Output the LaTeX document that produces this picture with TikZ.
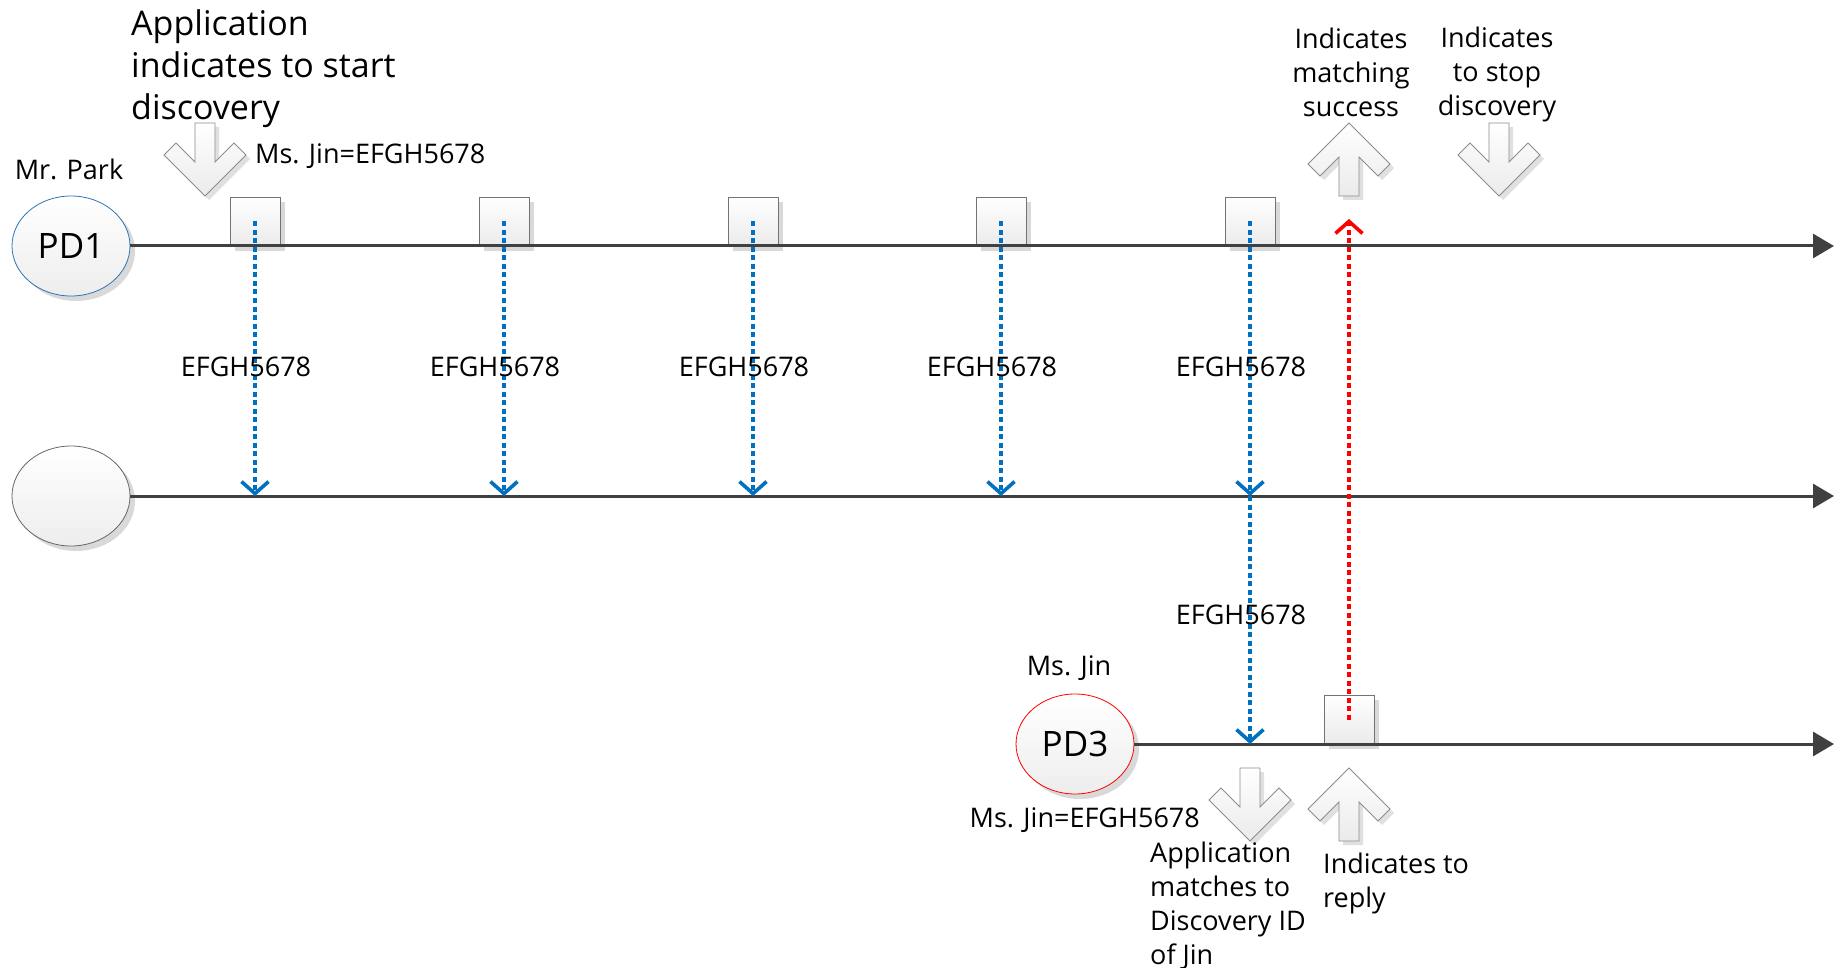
\documentclass[tikz,border=0pt]{standalone}
\usepackage{fontspec}
\setmainfont{Open Sans}
\usetikzlibrary{arrows.meta,shapes.geometric,shadows}
\definecolor{msgblue}{HTML}{0070C0}
\definecolor{ackred}{HTML}{FF0000}
\definecolor{pdblue}{HTML}{2E75B6}
\definecolor{lifegray}{HTML}{404040}
% block arrows (hints from the application)
\newcommand{\hintdown}[2]{%
  \fill[hintshade,shift={(#1+4,#2+4)}] (-10,0) -- (-10,39) -- (-29,20) -- (-41,32) -- (0,73) -- (41,32) -- (29,20) -- (10,39) -- (10,0) -- cycle;
  \draw[hintarrow,shift={(#1,#2)}] (-10,0) -- (-10,39) -- (-29,20) -- (-41,32) -- (0,73) -- (41,32) -- (29,20) -- (10,39) -- (10,0) -- cycle;}
\newcommand{\hintup}[2]{%
  \fill[hintshade,shift={(#1+4,#2+4)}] (-10,0) -- (-10,-39) -- (-29,-20) -- (-41,-32) -- (0,-73) -- (41,-32) -- (29,-20) -- (10,-39) -- (10,0) -- cycle;
  \draw[hintarrow,shift={(#1,#2)}] (-10,0) -- (-10,-39) -- (-29,-20) -- (-41,-32) -- (0,-73) -- (41,-32) -- (29,-20) -- (10,-39) -- (10,0) -- cycle;}

\begin{document}
\begin{tikzpicture}[x=1pt,y=-1pt,
    device/.style={ellipse,minimum width=118pt,minimum height=100pt,inner sep=0pt,line width=.8pt,
      top color=white,bottom color=black!7,
      drop shadow={fill=black!15,opacity=1,shadow xshift=5pt,shadow yshift=-5pt},
      font=\fontsize{35}{42}\selectfont},
    slot/.style={rectangle,minimum width=50pt,minimum height=49pt,inner sep=0pt,draw=black!55,line width=.8pt,
      top color=white,bottom color=black!8,
      drop shadow={fill=black!15,opacity=1,shadow xshift=5pt,shadow yshift=-5pt}},
    lifeline/.style={draw=lifegray,line width=3pt,-{Triangle[length=21pt,width=24pt]}},
    discmsg/.style={draw=msgblue,line width=3.6pt,dash pattern=on 5pt off 3.5pt,-{Straight Barb[length=12pt,width=27pt]}},
    ackmsg/.style={draw=ackred,line width=3.6pt,dash pattern=on 5pt off 3.5pt,-{Straight Barb[length=12pt,width=27pt]}},
    hintarrow/.style={draw=black!45,line width=.8pt,top color=white,bottom color=black!8},
    hintshade/.style={fill=black!12},
    lbl/.style={font=\fontsize{27}{34}\selectfont,inner sep=0pt,align=center}]
    \useasboundingbox (0,0) rectangle (1836,968);

    % devices
    \node[device,draw=pdblue] (PD1) at (71,246) {PD1};
    \node[device,draw=black!60] (PD2) at (71,496) {};
    \node[device,draw=ackred] (PD3) at (1075,744) {PD3};

    \coordinate (end1) at (1834,246);
    \coordinate (end2) at (1834,496);
    \coordinate (end3) at (1834,744);
    \coordinate (ackend) at (1349,219);

    % discovery slots
    \foreach \i/\x in {1/255,2/504,3/753,4/1001,5/1250}
        \node[slot] (B\i) at (\x,221.5) {};
    \node[slot] (B6) at (1349,719.5) {};

    \draw[lifeline] (PD1) -- (end1);
    \draw[lifeline] (PD2) -- (end2);
    \draw[lifeline] (PD3) -- (end3);

    % messages
    \foreach \i in {1,...,5}
        \draw[discmsg] (B\i.center) to node[lbl,pos=.53,xshift=-9pt] {EFGH5678} (B\i |- PD2);
    \draw[discmsg] (B5 |- PD2) to node[lbl,pos=.48,xshift=-9pt] {EFGH5678} (B5 |- PD3);
    \draw[ackmsg] (B6.center) -- (ackend);

    \hintdown{205}{123}
    \hintup{1349}{196}
    \hintdown{1499}{123}
    \hintdown{1250}{768}
    \hintup{1349}{841}

    % labels
    \node[lbl,font=\fontsize{34}{42}\selectfont,align=left,anchor=west] (start) at (131,69) {Application\\indicates to start\\discovery};
    \node[lbl] (park) at (69,169) {Mr. Park};
    \node[lbl,anchor=west] (idpark) at (255,156) {Ms. Jin=EFGH5678};
    \node[lbl] (match) at (1351,72) {Indicates\\matching\\success};
    \node[lbl] (stop) at (1497,74) {Indicates\\to stop\\discovery};
    \node[lbl] (jin) at (1069,668) {Ms. Jin};
    \node[lbl,anchor=east] (idjin) at (1200,820) {Ms. Jin=EFGH5678};
    \node[lbl,align=left,anchor=west] (matches) at (1150,906) {Application\\matches to\\Discovery ID\\of Jin};
    \node[lbl,align=left,anchor=west] (reply) at (1323,883) {Indicates to\\reply};
\end{tikzpicture}
\end{document}
